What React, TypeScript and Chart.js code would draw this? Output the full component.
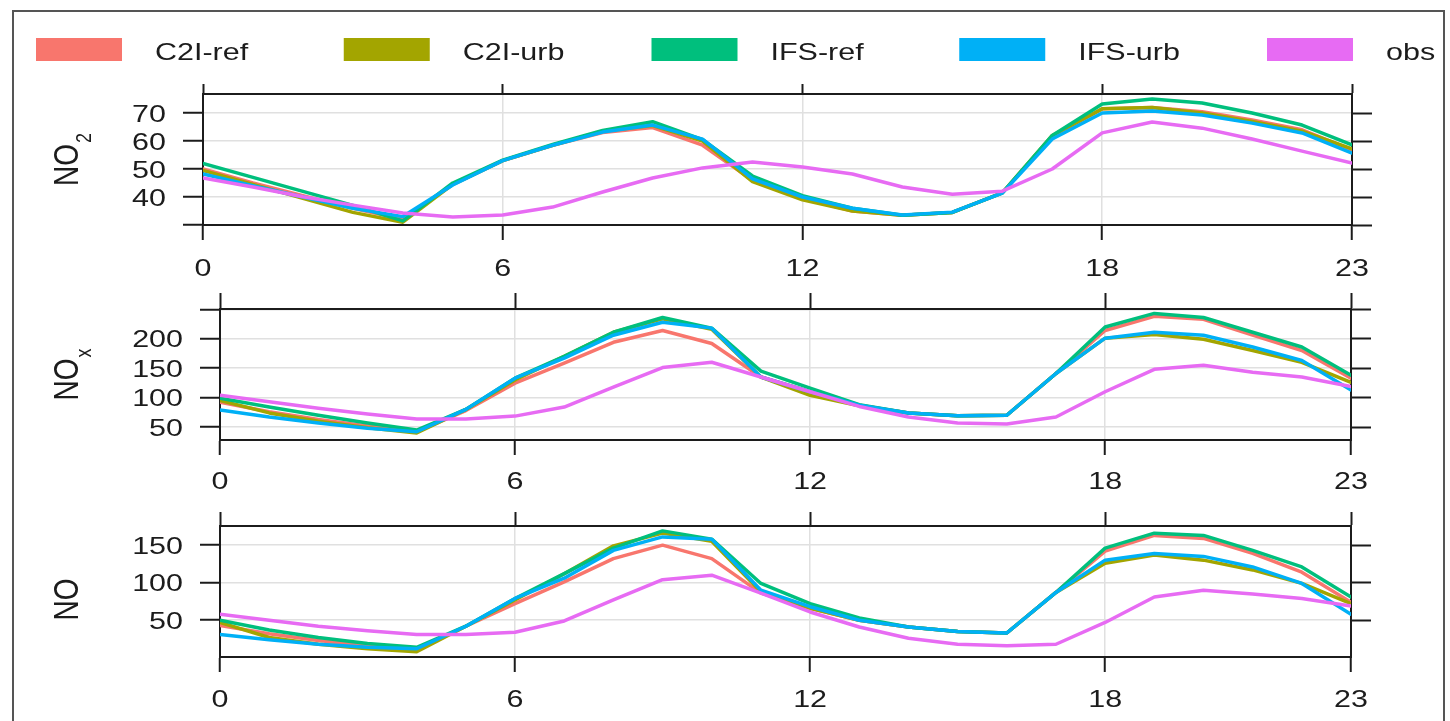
import { useEffect, useRef } from 'react';
import { Chart, registerables } from 'chart.js';

Chart.register(...registerables);

// ---- data -----------------------------------------------------------------
const hours = [0, 1, 2, 3, 4, 5, 6, 7, 8, 9, 10, 11, 12, 13, 14, 15, 16, 17, 18, 19, 20, 21, 22, 23];
const hourTicks = [0, 6, 12, 18, 23];

const seriesNames = ['C2I-ref', 'C2I-urb', 'IFS-ref', 'IFS-urb', 'obs'];
const seriesColors = ['#F8766D', '#A3A500', '#00BF7D', '#00B0F6', '#E76BF3'];

// NO2
const no2C2IRef = [50, 45, 40.5, 36, 32, 44.5, 53, 58.5, 63, 64.8, 58.5, 46, 39.5, 35, 33.5, 34.5, 41.5, 61.5, 71.5, 72, 70.5, 67.5, 64, 56.8];
const no2C2IUrb = [49.5, 44.5, 39.5, 34.5, 31, 44.5, 53, 58.5, 63.5, 65.5, 60, 45.5, 39, 35, 33.5, 34.5, 41.5, 62, 71.5, 72, 70, 67, 63.5, 57.2];
const no2IFSRef = [52, 47, 42, 37, 31.5, 45, 53.2, 58.8, 63.8, 66.9, 60.5, 47.5, 40.5, 36, 33.5, 34.5, 41.5, 62, 73.2, 75, 73.6, 70, 65.7, 58.6];
const no2IFSUrb = [48.2, 44, 40, 36, 33, 44.3, 53, 58.5, 63.2, 65.7, 60.7, 46.5, 40, 36, 33.6, 34.6, 41.4, 60.7, 70, 70.7, 69.3, 66.4, 62.9, 55.7];
const no2Obs = [46.8, 43.6, 40.1, 37.1, 34.3, 32.9, 33.6, 36.4, 41.8, 46.8, 50.4, 52.5, 50.7, 48.2, 43.6, 41, 42.1, 50, 62.9, 66.8, 64.6, 60.7, 56.4, 52.1];

// NOx
const noxC2IRef = [92, 76, 63, 52, 42, 78, 124.5, 158.5, 194, 214, 192, 135, 110, 87, 74, 69, 70, 141, 214, 238, 233, 206, 180, 133];
const noxC2IUrb = [95, 74, 60, 49, 40, 80, 130, 170, 211, 234, 216, 135, 104, 86, 74, 69, 70, 141, 201, 207, 199, 180, 160, 126];
const noxIFSRef = [99, 84, 70, 57, 45, 80, 133, 170, 211, 236, 218, 145, 116, 88, 74, 69, 70, 141, 220, 243, 236, 211, 186, 138];
const noxIFSUrb = [79, 67, 57, 48, 42, 80, 133, 167, 206, 228, 218, 135, 110, 87, 74, 69, 70, 141, 201, 211, 206, 186, 163, 113];
const noxObs = [104, 93, 82, 72, 63.5, 63.5, 68.6, 84, 118, 151, 160, 135, 110, 85, 67, 57, 55, 67, 110, 148, 155, 143, 135, 119];

// NO
const noC2IRef = [43, 32, 23, 16, 10, 42, 72, 101, 132, 150, 132, 86, 66, 50, 41, 35, 33, 87, 142, 163, 159, 139, 114, 74];
const noC2IUrb = [47, 27, 18, 12, 8, 42, 77, 112, 149, 166, 155, 88, 66, 50, 41, 35, 33, 87, 126, 137, 130, 117, 99, 72];
const noIFSRef = [50, 37, 27, 19, 14, 42, 79, 112, 146, 169, 158, 99, 72, 53, 41, 35, 33, 87, 146, 166, 163, 143, 121, 81];
const noIFSUrb = [31, 24, 18, 14, 12, 42, 79, 106, 143, 161, 158, 90, 68, 50, 41, 35, 33, 87, 130, 139, 135, 121, 99, 58];
const noObs = [58, 50, 42, 36, 31, 31, 34, 49, 77, 104, 110, 86, 61, 41, 26, 18, 16, 18, 47, 81, 90, 85, 79, 69];

// y ticks and their labels (empty label = tick mark only)
const no2Ticks = [30, 40, 50, 60, 70];
const no2TickLabels = ['', '40', '50', '60', '70'];
const noxTicks = [50, 100, 150, 200, 250];
const noxTickLabels = ['50', '100', '150', '200', ''];
const noTicks = [50, 100, 150];
const noTickLabels = ['50', '100', '150'];

// ---- styling ----------------------------------------------------------------
const FONT = "'Liberation Sans', Arial, Helvetica, sans-serif";
const INK = '#1c1c1c';
const GRID = '#e0e0e0';
const SX = 1.27; // horizontal text stretch

type Panel = {
  title: string;
  sub: string;
  series: number[][];
  yMin: number;
  yMax: number;
  yTicks: number[];
  yLabels: string[];
  legend: boolean;
  top: number;
  height: number;
  padding: { left: number; right: number; top: number; bottom: number };
  topTick: number;
  xLabelGap: number;
  titleShift: number;
};

const panels: Panel[] = [
  {
    title: 'NO', sub: '2',
    series: [no2C2IRef, no2C2IUrb, no2IFSRef, no2IFSUrb, no2Obs],
    yMin: 30, yMax: 76.8, yTicks: no2Ticks, yLabels: no2TickLabels,
    legend: true,
    top: 0, height: 285,
    padding: { left: 183, right: 78, top: 74, bottom: 20 },
    topTick: 10, xLabelGap: 51, titleShift: 0,
  },
  {
    title: 'NO', sub: 'x',
    series: [noxC2IRef, noxC2IUrb, noxIFSRef, noxIFSUrb, noxObs],
    yMin: 28, yMax: 250.5, yTicks: noxTicks, yLabels: noxTickLabels,
    legend: false,
    top: 285, height: 205,
    padding: { left: 200, right: 79, top: 4, bottom: 10 },
    topTick: 16, xLabelGap: 48.5, titleShift: 0,
  },
  {
    title: 'NO', sub: '',
    series: [noC2IRef, noC2IUrb, noIFSRef, noIFSUrb, noObs],
    yMin: 1, yMax: 175.5, yTicks: noTicks, yLabels: noTickLabels,
    legend: false,
    top: 490, height: 231,
    padding: { left: 200, right: 79, top: 16, bottom: 24 },
    topTick: 14, xLabelGap: 50, titleShift: 8,
  },
];

function drawStretched(ctx: CanvasRenderingContext2D, text: string, x: number, y: number) {
  ctx.save();
  ctx.translate(x, y);
  ctx.scale(SX, 1);
  ctx.fillText(text, 0, 0);
  ctx.restore();
}

// Tick labels, rotated axis title with subscript, and the key
const panelDecor = {
  id: 'panelDecor',
  afterDraw(chart: any, _args: any, opts: any) {
    const ctx: CanvasRenderingContext2D = chart.ctx;
    const a = chart.chartArea;
    const xs = chart.scales.x;
    const ys = chart.scales.y;
    ctx.save();
    ctx.fillStyle = INK;
    ctx.textBaseline = 'alphabetic';

    ctx.font = `24px ${FONT}`;
    ctx.textAlign = 'center';
    xs.ticks.forEach((t: any) => {
      drawStretched(ctx, String(t.value), xs.getPixelForValue(t.value), a.bottom + opts.xLabelGap);
    });

    ctx.textAlign = 'right';
    ys.ticks.forEach((t: any) => {
      const label = opts.yLabels[opts.yTicks.indexOf(t.value)];
      if (!label) return;
      drawStretched(ctx, label, a.left - 37, ys.getPixelForValue(t.value) + 8.5);
    });

    // rotated title: main text + subscript
    ctx.save();
    ctx.translate(78, (a.top + a.bottom) / 2 + opts.titleShift);
    ctx.scale(SX, 1);
    ctx.rotate(-Math.PI / 2);
    ctx.textAlign = 'left';
    ctx.font = `28px ${FONT}`;
    const wMain = ctx.measureText(opts.title).width;
    ctx.font = `18px ${FONT}`;
    const wSub = opts.sub ? ctx.measureText(opts.sub).width + 1 : 0;
    const start = -(wMain + wSub) / 2;
    ctx.font = `28px ${FONT}`;
    ctx.fillText(opts.title, start, 0);
    if (opts.sub) {
      ctx.font = `18px ${FONT}`;
      ctx.fillText(opts.sub, start + wMain + 1, 10);
    }
    ctx.restore();

    if (opts.legend) {
      ctx.textAlign = 'left';
      ctx.font = `24px ${FONT}`;
      chart.data.datasets.forEach((ds: any, i: number) => {
        const x0 = 36 + i * 307.75;
        ctx.fillStyle = ds.borderColor;
        ctx.fillRect(x0, 38, 86, 23);
        ctx.fillStyle = INK;
        drawStretched(ctx, ds.label, x0 + 119, 60);
      });
    }
    ctx.restore();
  },
};

function makeConfig(p: Panel): any {
  const fixTicks = (vals: number[]) => (s: any) => {
    s.ticks = vals.map((v) => ({ value: v }));
  };
  const border = { display: true, color: INK, width: 2 };
  const xBase = {
    type: 'linear',
    min: 0,
    max: 23,
    bounds: 'data',
    afterBuildTicks: fixTicks(hourTicks),
    ticks: { display: false },
    border,
  };
  const yBase = {
    type: 'linear',
    min: p.yMin,
    max: p.yMax,
    bounds: 'data',
    afterBuildTicks: fixTicks(p.yTicks),
    afterFit: (s: any) => { s.width = 20; },
    ticks: { display: false },
    border,
  };
  return {
    type: 'line',
    data: {
      datasets: seriesNames.map((name, i) => ({
        label: name,
        data: hours.map((h, k) => ({ x: h, y: p.series[i][k] })),
        borderColor: seriesColors[i],
        backgroundColor: seriesColors[i],
        borderWidth: 3.5,
        borderCapStyle: 'round',
        borderJoinStyle: 'round',
        pointRadius: 0,
        tension: 0,
        order: seriesNames.length - 1 - i,
        xAxisID: 'x',
        yAxisID: 'y',
      })),
    },
    options: {
      responsive: false,
      animation: false,
      devicePixelRatio: 1,
      layout: { padding: p.padding, autoPadding: false },
      plugins: {
        legend: { display: false },
        title: { display: false },
        tooltip: { enabled: false },
        panelDecor: {
          title: p.title,
          sub: p.sub,
          yTicks: p.yTicks,
          yLabels: p.yLabels,
          legend: p.legend,
          xLabelGap: p.xLabelGap,
          titleShift: p.titleShift,
        },
      },
      scales: {
        x: {
          ...xBase,
          position: 'bottom',
          afterFit: (s: any) => { s.height = 40; },
          grid: { color: GRID, lineWidth: 1.5, drawTicks: true, tickLength: 15, tickColor: INK, tickWidth: 2 },
        },
        xTop: {
          ...xBase,
          position: 'top',
          afterFit: (s: any) => { s.height = 20; },
          grid: { drawOnChartArea: false, drawTicks: true, tickLength: p.topTick, tickColor: INK, tickWidth: 2 },
        },
        y: {
          ...yBase,
          position: 'left',
          grid: { color: GRID, lineWidth: 1.5, drawTicks: true, tickLength: 20, tickColor: INK, tickWidth: 2 },
        },
        yRight: {
          ...yBase,
          position: 'right',
          grid: { drawOnChartArea: false, drawTicks: true, tickLength: 20, tickColor: INK, tickWidth: 2 },
        },
      },
    },
    plugins: [panelDecor],
  };
}

export default function App() {
  const canvasRefs = useRef<(HTMLCanvasElement | null)[]>([]);

  useEffect(() => {
    const charts = panels.map((p, i) => new Chart(canvasRefs.current[i] as HTMLCanvasElement, makeConfig(p)));
    return () => charts.forEach((c) => c.destroy());
  }, []);

  return (
    <div
      style={{
        position: 'absolute',
        left: 0,
        top: 0,
        width: 1450,
        height: 721,
        background: '#ffffff',
        overflow: 'hidden',
      }}
    >
      <div
        style={{
          position: 'absolute',
          left: 12,
          top: 10,
          width: 1429,
          height: 760,
          border: '2px solid #555555',
        }}
      />
      {panels.map((p, i) => (
        <canvas
          key={i}
          ref={(el) => {
            canvasRefs.current[i] = el;
          }}
          width={1450}
          height={p.height}
          style={{ position: 'absolute', left: 0, top: p.top, width: 1450, height: p.height }}
        />
      ))}
    </div>
  );
}
